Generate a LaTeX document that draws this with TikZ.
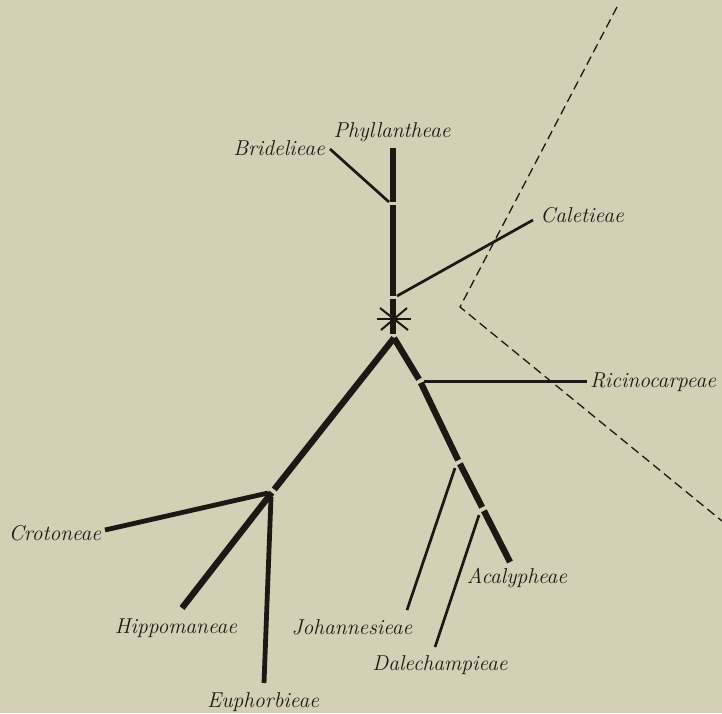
\documentclass[tikz,border=0pt]{standalone}
\usetikzlibrary{calc}
\definecolor{paper}{RGB}{212,208,181}
\definecolor{ink}{RGB}{28,24,20}
\begin{document}
\begin{tikzpicture}[x=1pt,y=-1pt,
  thickl/.style={line width=6.3pt, draw=ink},
  midl/.style={line width=4.8pt, draw=ink},
  thinl/.style={line width=2.7pt, draw=ink},
  astl/.style={line width=2pt, draw=ink},
  dashl/.style={line width=1.3pt, draw=ink, dash pattern=on 9pt off 5pt},
  lab/.style={font=\fontsize{21.5}{24}\selectfont\itshape, text=ink, inner sep=0pt},
]
\fill[paper] (0,0) rectangle (722,713);
\useasboundingbox (0,0) rectangle (722,713);

% labels
\node[lab] (phy) at (392,132) {Phyllantheae};
\node[lab] (bri) at (279,148) {Bridelieae};
\node[lab] (cal) at (582,215) {Caletieae};
\node[lab] (ric) at (653,382) {Ricinocarpeae};
\node[lab] (cro) at (55,533) {Crotoneae};
\node[lab] (hip) at (176,628) {Hippomaneae};
\node[lab] (eup) at (263,702) {Euphorbieae};
\node[lab] (joh) at (352,627) {Johannesieae};
\node[lab] (dal) at (440,665) {Dalechampieae};
\node[lab] (aca) at (517,578) {Acalypheae};

% skeleton coordinates
\coordinate (top) at (393,148);
\coordinate (jb) at (393,203);
\coordinate (jc) at (393,297);
\coordinate (ast) at (393,319);
\coordinate (base) at (393,334);
\coordinate (br) at (394,338);
\coordinate (jl) at (273,491);
\coordinate (jr1) at (420,381);
\coordinate (jr2) at (459,462);
\coordinate (jr3) at (483,509);

% free ends
\coordinate (eH) at (182,608);
\coordinate (eE) at (264,683);
\coordinate (eC) at (105,530);
\coordinate (sC) at (268,493);
\coordinate (sE) at (271,497);
\coordinate (eA) at (510,562);
\coordinate (sJ) at (455,468);
\coordinate (eJ) at (407,610);
\coordinate (sD) at (479,515);
\coordinate (eD) at (435,647);
\coordinate (sR) at (424,381);
\coordinate (eR) at (587,381);
\coordinate (sCal) at (397,296);
\coordinate (eCal) at (533,220);
\coordinate (eB) at (330,149);
\coordinate (sB) at (389,202);

% main stem with breaks
\draw[thickl, shorten >=1.5pt] (top) -- (jb);
\draw[thickl, shorten <=1.5pt, shorten >=1.5pt] (jb) -- (jc);
\draw[thickl, shorten <=1.5pt] (jc) -- (base);

% asterisk
\draw[astl] (377,319) -- (411,319);
\draw[astl] (380,308) -- (408,330);
\draw[astl] (381,330) -- (407,308);

% left branch
\draw[thickl, shorten >=2pt] (br) -- (jl);
\draw[thickl, shorten <=2pt] (jl) -- (eH);
\draw[midl] (eC) -- (sC);
\draw[midl] (sE) -- (eE);

% right branch
\draw[thickl, shorten >=2pt] (br) -- (jr1);
\draw[thickl, shorten <=2pt, shorten >=2pt] (jr1) -- (jr2);
\draw[thickl, shorten <=2pt, shorten >=2pt] (jr2) -- (jr3);
\draw[thickl, shorten <=2pt] (jr3) -- (eA);

% thin side branches
\draw[thinl] (eB) -- (sB);
\draw[thinl] (sCal) -- (eCal);
\draw[line width=3pt, draw=ink] (sR) -- (eR);
\draw[thinl] (sJ) -- (eJ);
\draw[thinl] (sD) -- (eD);

% dashed boundary
\coordinate (d1) at (617,7);
\coordinate (d2) at (460,307);
\coordinate (d3) at (722,521);
\draw[dashl] (d1) -- (d2) -- (d3);
\end{tikzpicture}
\end{document}
